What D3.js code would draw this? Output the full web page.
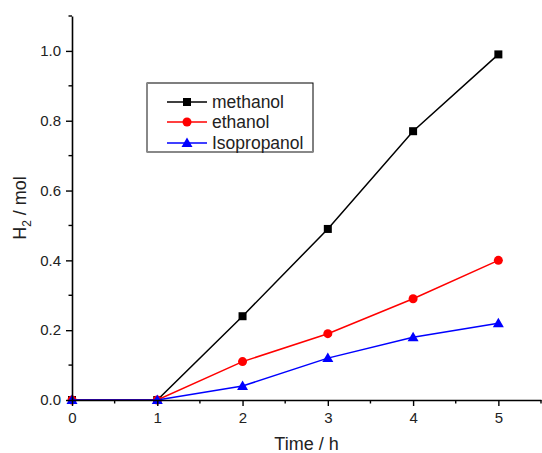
<!DOCTYPE html>
<html>
<head>
<meta charset="utf-8">
<script src="https://cdn.jsdelivr.net/npm/d3@7"></script>
<style>
  body { margin: 0; background: #fff; }
  svg { display: block; font-family: Arial, "Liberation Sans", sans-serif; }
</style>
</head>
<body>
<div id="chart"></div>
<script>
// data
var times = [0, 1, 2, 3, 4, 5];
var methanol = [0, 0, 0.24, 0.49, 0.77, 0.99];
var ethanol = [0, 0, 0.11, 0.19, 0.29, 0.40];
var isopropanol = [0, 0, 0.04, 0.12, 0.18, 0.22];
var xTicks = [0, 1, 2, 3, 4, 5];
var yTicks = [0, 0.2, 0.4, 0.6, 0.8, 1.0];

var series = [
    { name: "methanol", values: methanol, color: "#000000", shape: "square" },
    { name: "ethanol", values: ethanol, color: "#ff0000", shape: "circle" },
    { name: "Isopropanol", values: isopropanol, color: "#0000ff", shape: "triangle" }
];

var W = 542, H = 453;
var plotLeft = 72, plotRight = 541, plotTop = 16, plotBottom = 400;

var svg = d3.select("#chart").append("svg")
    .attr("width", W)
    .attr("height", H);

var x = d3.scaleLinear().domain([0, 5.5]).range([plotLeft, plotRight]);
var y = d3.scaleLinear().domain([0, 1.1]).range([plotBottom, plotTop]);

//symbols
function drawMarker(g, shape, color, cx, cy) {
    if (shape == "square") {
        g.append("rect").attr("x", cx - 4).attr("y", cy - 4)
            .attr("width", 8).attr("height", 8).attr("fill", color);
    } else if (shape == "circle") {
        g.append("circle").attr("cx", cx).attr("cy", cy).attr("r", 4.5).attr("fill", color);
    } else {
        g.append("path")
            .attr("d", "M" + cx + "," + (cy - 5.5) + "L" + (cx + 5.5) + "," + (cy + 4) + "L" + (cx - 5.5) + "," + (cy + 4) + "Z")
            .attr("fill", color);
    }
}

//lines + markers
var line = d3.line()
    .x(function (d, i) { return x(times[i]); })
    .y(function (d) { return y(d); });

var plot = svg.append("g").attr("id", "plot");
series.forEach(function (s) {
    plot.append("path")
        .datum(s.values)
        .attr("d", line)
        .attr("fill", "none")
        .attr("stroke", s.color)
        .attr("stroke-width", 1.5);
    var mg = plot.append("g");
    s.values.forEach(function (v, i) {
        drawMarker(mg, s.shape, s.color, x(times[i]), y(v));
    });
});

//axes
var xAxis = svg.append("g")
    .attr("transform", "translate(0," + plotBottom + ")")
    .call(d3.axisBottom(x).tickValues(xTicks).tickFormat(d3.format("d")).tickSize(6).tickPadding(6).tickSizeOuter(0));
var yAxis = svg.append("g")
    .attr("transform", "translate(" + plotLeft + ",0)")
    .call(d3.axisLeft(y).tickValues(yTicks).tickFormat(d3.format(".1f")).tickSize(6).tickPadding(5).tickSizeOuter(0));

[xAxis, yAxis].forEach(function (a) {
    a.select(".domain").attr("stroke", "#000").attr("stroke-width", 1.6);
    a.selectAll(".tick line").attr("stroke", "#000").attr("stroke-width", 1.4);
    a.selectAll(".tick text").attr("font-size", "15px").attr("fill", "#222")
        .attr("font-family", "Arial, 'Liberation Sans', sans-serif");
});

//minor ticks
var xMinor = [0.5, 1.5, 2.5, 3.5, 4.5, 5.5];
var yMinor = [0.1, 0.3, 0.5, 0.7, 0.9, 1.1];
svg.append("g").selectAll("line").data(xMinor).enter().append("line")
    .attr("x1", function (d) { return x(d); }).attr("x2", function (d) { return x(d); })
    .attr("y1", plotBottom).attr("y2", plotBottom + 3.5)
    .attr("stroke", "#000").attr("stroke-width", 1.4);
svg.append("g").selectAll("line").data(yMinor).enter().append("line")
    .attr("y1", function (d) { return y(d); }).attr("y2", function (d) { return y(d); })
    .attr("x1", plotLeft).attr("x2", plotLeft - 3.5)
    .attr("stroke", "#000").attr("stroke-width", 1.4);

//axis titles
svg.append("text")
    .attr("x", (plotLeft + plotRight) / 2)
    .attr("y", 450)
    .attr("text-anchor", "middle")
    .attr("font-size", "18px")
    .attr("fill", "#222")
    .text("Time / h");

var yt = svg.append("text")
    .attr("transform", "translate(26," + ((plotTop + plotBottom) / 2) + ") rotate(-90)")
    .attr("text-anchor", "middle")
    .attr("font-size", "18px")
    .attr("fill", "#222");
yt.append("tspan").text("H");
yt.append("tspan").attr("font-size", "12px").attr("dy", 5).text("2");
yt.append("tspan").attr("dy", -5).text(" / mol");

//legend
var lg = svg.append("g").attr("id", "legend");
var lx = 147, ly = 83, lw = 166, lh = 69;
lg.append("rect").attr("x", lx).attr("y", ly).attr("width", lw).attr("height", lh)
    .attr("fill", "#fff").attr("stroke", "#000").attr("stroke-width", 1);
lg.append("line").attr("x1", lx).attr("x2", lx).attr("y1", ly).attr("y2", ly + lh)
    .attr("stroke", "#888").attr("stroke-width", 2);
lg.append("line").attr("x1", lx).attr("x2", lx + lw).attr("y1", ly + lh).attr("y2", ly + lh)
    .attr("stroke", "#888").attr("stroke-width", 2);

var rowY = [102, 122, 143];
series.forEach(function (s, i) {
    lg.append("line").attr("x1", 167).attr("x2", 207)
        .attr("y1", rowY[i]).attr("y2", rowY[i])
        .attr("stroke", s.color).attr("stroke-width", 1.5);
    drawMarker(lg, s.shape, s.color, 187, rowY[i]);
    lg.append("text").attr("x", 212).attr("y", rowY[i] + 6)
        .attr("font-size", "17.5px").attr("fill", "#222")
        .text(s.name);
});
</script>
</body>
</html>
